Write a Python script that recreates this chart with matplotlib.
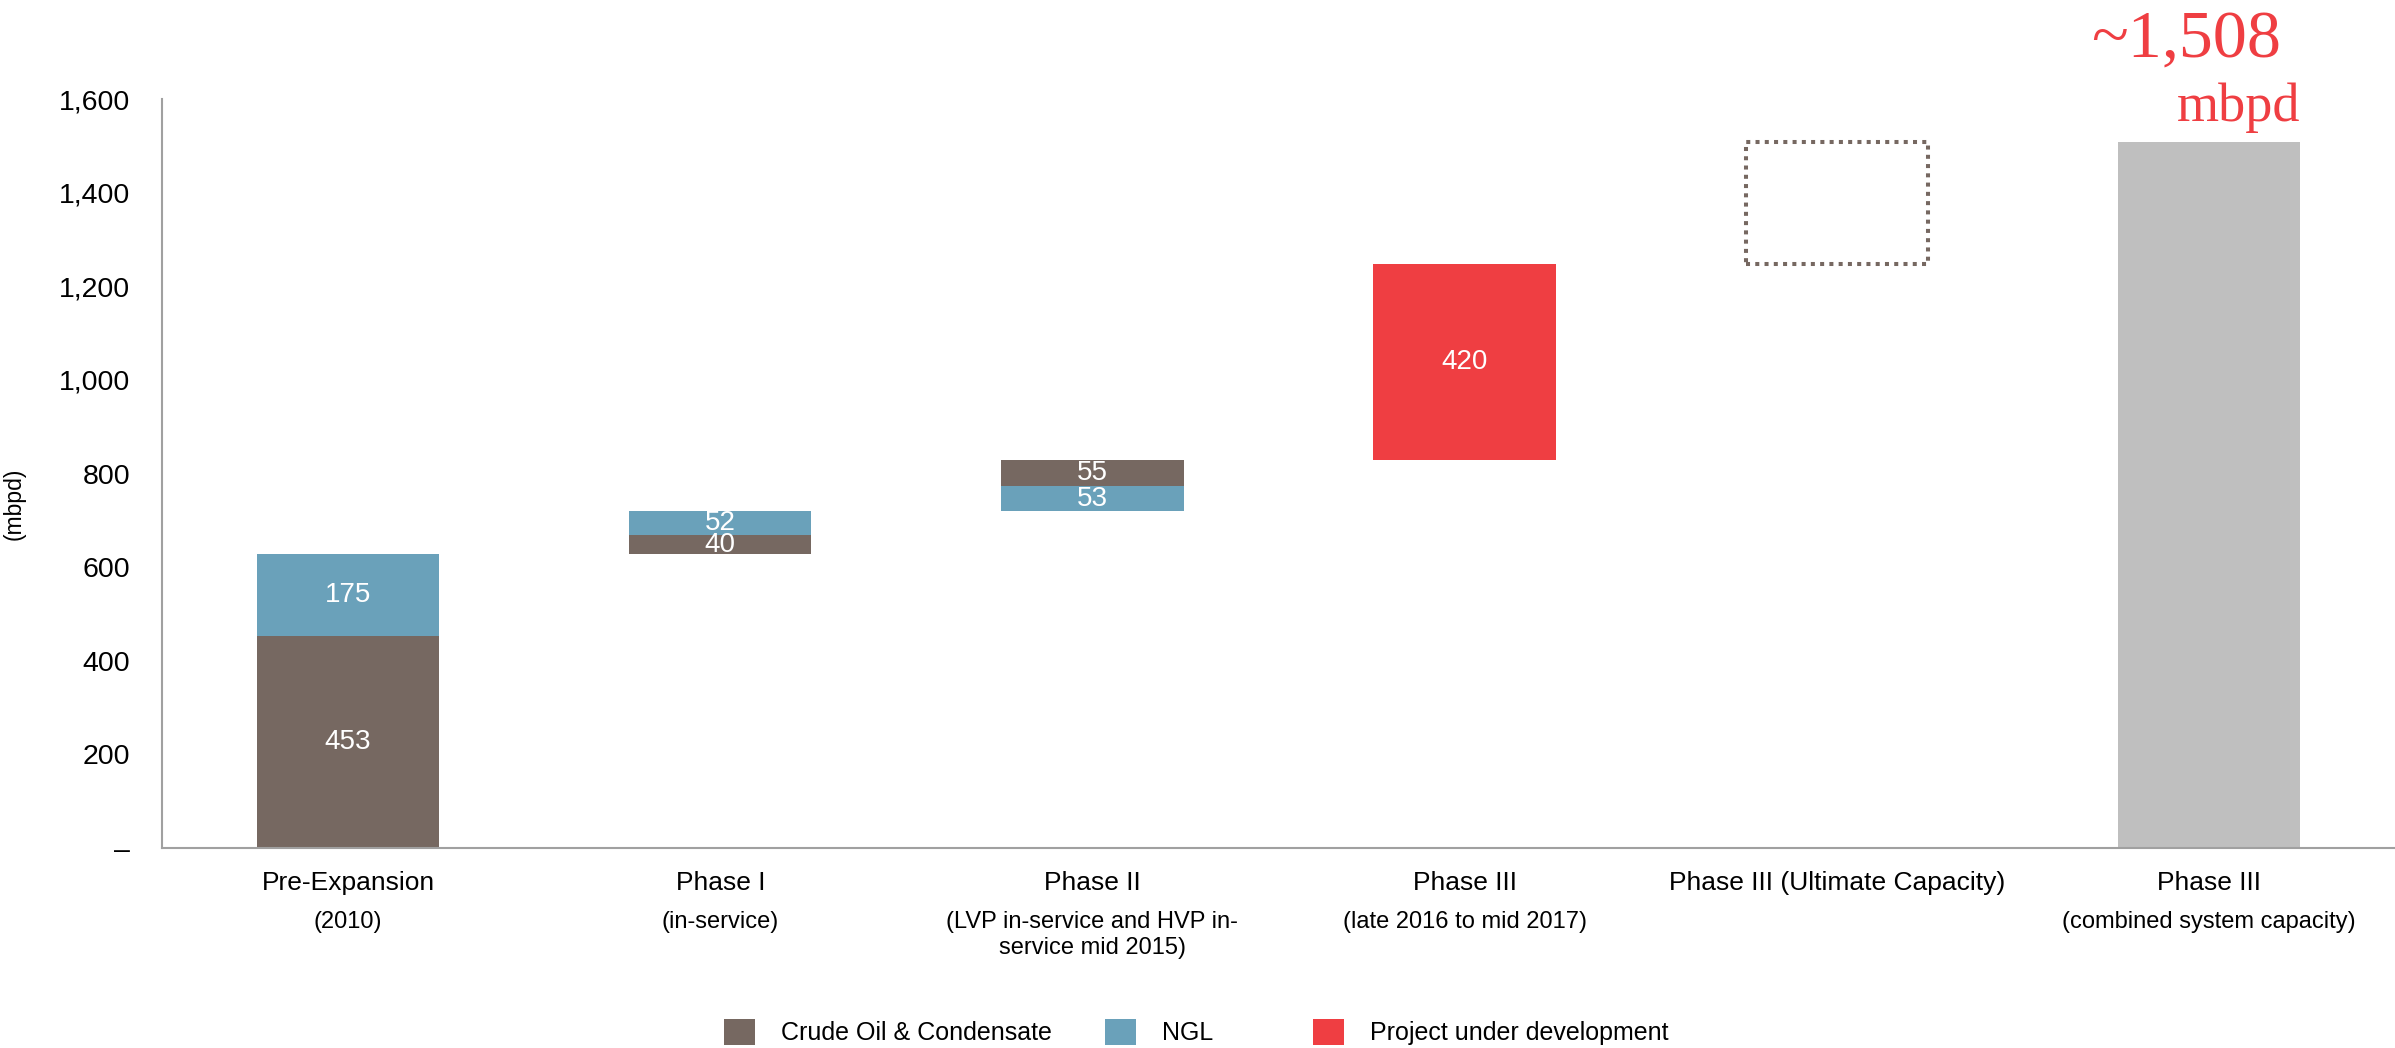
import matplotlib
matplotlib.use("Agg")
import matplotlib.pyplot as plt
from matplotlib.patches import Patch
from matplotlib.ticker import FuncFormatter

plt.rcParams['font.family'] = ['Liberation Sans', 'DejaVu Sans']

# ---- data ----
cat_main = ["Pre-Expansion", "Phase I", "Phase II", "Phase III",
            "Phase III (Ultimate Capacity)", "Phase III"]
cat_sub = ["(2010)", "(in-service)", "(LVP in-service and HVP in-\nservice mid 2015)",
           "(late 2016 to mid 2017)", "", "(combined system capacity)"]
crude = [453, 40, 55]
ngl = [175, 52, 53]
stack_order = [("crude", "ngl"), ("crude", "ngl"), ("ngl", "crude")]
dev_value = 420
ultimate_total = 1508
combined_total = 1508
yticks = [0, 200, 400, 600, 800, 1000, 1200, 1400, 1600]
legend_labels = ["Crude Oil & Condensate", "NGL", "Project under development"]

C_CRUDE = "#766861"
C_NGL = "#6AA1BA"
C_DEV = "#EF3E42"
C_GREY = "#BFBFBF"
C_AXIS = "#A0A0A0"

fig = plt.figure(figsize=(23.95, 10.48), dpi=100)
ax = fig.add_axes([162/2395, 1-848/1048, (2395-162)/2395, (848-99)/1048])

W = 0.49
vals = {"crude": crude, "ngl": ngl}
cols = {"crude": C_CRUDE, "ngl": C_NGL}
base = 0
for i in range(3):
    for key in stack_order[i]:
        h = vals[key][i]
        ax.bar(i, h, bottom=base, width=W, color=cols[key], linewidth=0)
        ax.text(i, base + h/2, f"{h}", ha='center', va='center', color='white',
                fontsize=20)
        base += h
ax.bar(3, dev_value, bottom=base, width=W, color=C_DEV, linewidth=0)
ax.text(3, base + dev_value/2, f"{dev_value}", ha='center', va='center',
        color='white', fontsize=20)
base += dev_value
ax.bar(4, ultimate_total - base, bottom=base, width=W, fill=False,
       edgecolor=C_CRUDE, linewidth=2.9, linestyle=(0, (1, 1.3)))
ax.bar(5, combined_total, width=W, color=C_GREY, linewidth=0)

ax.text(5 + W/2 - 0.05, 1725, f"~{combined_total:,}", ha='right', va='center',
        color=C_DEV, fontsize=49, family=['Liberation Serif'], clip_on=False)
ax.text(5 + W/2, 1582, "mbpd", ha='right', va='center',
        color=C_DEV, fontsize=39, family=['Liberation Serif'], clip_on=False)

ax.set_xlim(-0.5, 5.5)
ax.set_ylim(0, 1600)
ax.set_yticks(yticks)
ax.yaxis.set_major_formatter(FuncFormatter(lambda v, p: "–" if v == 0 else f"{int(v):,}"))
ax.tick_params(axis='y', length=0, pad=23, labelsize=20.5)
ax.set_xticks([])
for s in ['top', 'right']:
    ax.spines[s].set_visible(False)
for s in ['left', 'bottom']:
    ax.spines[s].set_color(C_AXIS)
    ax.spines[s].set_linewidth(1.5)
ax.set_ylabel("(mbpd)", fontsize=16.5)
ax.yaxis.set_label_coords(-0.061, 0.46)

for i, (m, s) in enumerate(zip(cat_main, cat_sub)):
    ax.annotate(m, xy=(i, 0), xycoords=('data', 'axes fraction'),
                xytext=(0, -25), textcoords='offset points',
                ha='center', va='center', fontsize=19)
    if s:
        for k, ln in enumerate(s.split("\n")):
            ax.annotate(ln, xy=(i, 0), xycoords=('data', 'axes fraction'),
                        xytext=(0, -53 - 18.7*k), textcoords='offset points',
                        ha='center', va='center', fontsize=17)

# legend entries placed individually
leg_x = [724/2395, 1105/2395, 1313/2395]
leg_cols = [C_CRUDE, C_NGL, C_DEV]
for x, lab, c in zip(leg_x, legend_labels, leg_cols):
    fig.legend(handles=[Patch(facecolor=c, edgecolor='none', label=lab)],
               loc='center left', bbox_to_anchor=(x, 1-1032/1048),
               frameon=False, fontsize=18, handlelength=1.24, handleheight=1.24,
               handletextpad=1.04, borderpad=0, borderaxespad=0)

fig.savefig("out.png", dpi=100)
